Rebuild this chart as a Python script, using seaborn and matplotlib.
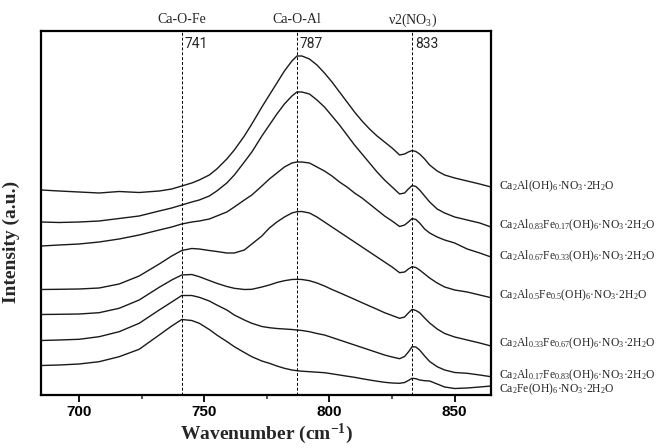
import matplotlib
matplotlib.use("Agg")
import matplotlib.pyplot as plt
import matplotlib.transforms as mtransforms
import numpy as np
import pandas as pd
import seaborn as sns

# ---------------- data ----------------
wavenumber = [685, 692, 700, 708, 716, 724, 732, 737, 741, 745, 748, 752, 755, 759, 762,
              766, 769, 773, 776, 779, 782, 785, 787, 789, 792, 795, 798, 801, 804, 807,
              810, 813, 816, 819, 822, 825, 828, 830, 831.5, 833, 834.5, 836, 838, 840, 843,
              846, 850, 855, 860, 864.5]

s_al100 = [205, 204, 203, 202, 203.5, 202.5, 204, 206, 209, 212, 215, 220, 226, 236, 245,
           259, 271, 288, 300, 312, 324, 334, 339, 339, 336, 330, 322, 313, 303, 293,
           283, 274, 266, 259, 253, 247, 240, 241, 243, 244.5, 243.5, 241, 236, 230, 224,
           220, 217, 214, 211, 208]
s_al83 = [173, 172.5, 173, 174, 176.5, 179, 184, 187, 190, 193, 195, 199, 204, 212, 220,
          233, 243, 259, 270, 281, 291, 299, 303, 303, 301, 295, 288, 279, 270, 260,
          250, 241, 232, 223, 215, 208, 201, 202, 206, 209.5, 208.5, 205, 199, 193, 186,
          182, 178, 175, 172, 168]
s_al67 = [149, 150, 151, 153, 156, 160, 165, 168, 171, 173, 174, 176, 179, 183, 188,
          195, 200, 209, 216, 222, 228, 232, 233, 233, 232, 228, 224, 219, 213, 208,
          202, 197, 191, 185, 179, 174, 168.5, 170, 173, 176.5, 175.5, 172, 166, 162, 158,
          155, 152, 146, 142, 138]
s_al50 = [105.5, 105.7, 106, 107, 111, 119, 131, 139, 144.5, 146.5, 146, 144.5, 143.5, 142, 142,
          145, 151, 159, 167, 173, 178, 182, 183.3, 183.5, 182, 178, 173, 168, 163, 158,
          153, 148, 143, 138, 133, 128, 122.3, 123, 126, 128.3, 127.5, 125, 121, 117, 112,
          108, 105, 103, 100, 97.3]
s_al33 = [80.5, 80.7, 81, 82.3, 86.7, 95, 107.7, 115, 120, 120.5, 118.3, 114.5, 111.7, 108.5, 106.7,
          105.5, 105.7, 108, 110, 112.5, 114.3, 115.5, 115.7, 115.5, 114.3, 112, 109, 105.5, 102.3, 99,
          95.7, 92.3, 89, 85.7, 82.3, 79.5, 76.7, 78, 82, 85.7, 84.5, 82.3, 77, 72, 66,
          61.5, 58, 55, 52, 49]
s_al17 = [54.5, 55, 55.7, 58.3, 63.3, 71.7, 85, 93, 99.5, 99.5, 97.7, 94, 90, 85, 80,
          75, 71.7, 68.5, 67.3, 66.5, 66, 65.5, 65, 64.5, 63.3, 61.5, 60, 57.5, 55, 52.5,
          50, 47.5, 45, 42.5, 40, 38, 36.3, 38.5, 43, 48.3, 48, 45, 39, 33.5, 28.3,
          25, 22.5, 21.7, 20, 18.3]
s_fe100 = [29.5, 30, 31, 33.3, 38.3, 45.7, 60, 69, 75.5, 74.5, 71.7, 65.5, 60, 53.5, 48.3,
           42.5, 38.3, 34, 31.7, 29, 26.7, 25, 24.3, 23.8, 23.3, 22.8, 22.3, 21.2, 20, 18.8,
           17.7, 16.3, 15, 13.8, 12.7, 12, 11.7, 12.5, 14.5, 16.7, 16.3, 15, 14.3, 14, 11,
           8, 6.5, 7, 8, 9]

sample_labels = [
    r"Ca$_2$Al(OH)$_6$·NO$_3$·2H$_2$O",
    r"Ca$_2$Al$_{0.83}$Fe$_{0.17}$(OH)$_6$·NO$_3$·2H$_2$O",
    r"Ca$_2$Al$_{0.67}$Fe$_{0.33}$(OH)$_6$·NO$_3$·2H$_2$O",
    r"Ca$_2$Al$_{0.5}$Fe$_{0.5}$(OH)$_6$·NO$_3$·2H$_2$O",
    r"Ca$_2$Al$_{0.33}$Fe$_{0.67}$(OH)$_6$·NO$_3$·2H$_2$O",
    r"Ca$_2$Al$_{0.17}$Fe$_{0.83}$(OH)$_6$·NO$_3$·2H$_2$O",
    r"Ca$_2$Fe(OH)$_6$·NO$_3$·2H$_2$O",
]
label_y = [209, 170, 139, 100, 52, 20, 6]

peak_positions = [741, 787, 833]
peak_assign = ["Ca-O-Fe", "Ca-O-Al", r"ν2(NO$_3$)"]
xticks = [700, 750, 800, 850]

# ---------------- plot ----------------
sns.set_style("ticks")
plt.rcParams["mathtext.default"] = "regular"

series = [s_al100, s_al83, s_al67, s_al50, s_al33, s_al17, s_fe100]
df = pd.concat([
    pd.DataFrame({"w": wavenumber, "I": s, "sample": str(i)})
    for i, s in enumerate(series)
], ignore_index=True)

fig = plt.figure(figsize=(6.61, 4.48), dpi=100)
ax = fig.add_axes([41 / 661, 1 - 395 / 448, 450 / 661, 364 / 448])

sns.lineplot(data=df, x="w", y="I", hue="sample", palette=["#1a1a1a"] * 7,
             legend=False, linewidth=1.0, estimator=None, ax=ax)

for p in peak_positions:
    ax.axvline(p, color="black", lw=0.7, ls=(0, (3, 2)))

for p, name in zip(peak_positions, peak_assign):
    ax.annotate(str(p), xy=(p, 1), xycoords=("data", "axes fraction"),
                xytext=(2.2, -9), textcoords="offset points",
                ha="left", va="center", fontsize=10, family="Roboto")
    ax.annotate(name, xy=(p, 1), xycoords=("data", "axes fraction"),
                xytext=(0, 8), textcoords="offset points",
                ha="center", va="center", fontsize=10, family="Liberation Serif",
                annotation_clip=False)

trans = mtransforms.blended_transform_factory(ax.transAxes, ax.transData)
for lab, y in zip(sample_labels, label_y):
    ax.text(1.018, y, lab, transform=trans, ha="left", va="center",
            fontsize=8.4, family="Liberation Serif", clip_on=False)

ax.set_xlim(684.8, 864.5)
ax.set_ylim(0, 364)
ax.set_yticks([])
ax.set_xticks(xticks)
ax.set_xticks([725, 775, 825], minor=True)
ax.tick_params(axis="x", which="major", direction="out", length=5, width=1.3, pad=2,
               labelsize=11, colors="black")
ax.tick_params(axis="x", which="minor", direction="out", length=3, width=1.1)
for lbl in ax.get_xticklabels():
    lbl.set_fontfamily("Liberation Sans")
    lbl.set_fontweight("bold")

for s in ax.spines.values():
    s.set_visible(True)
    s.set_linewidth(1.6)
    s.set_color("black")

ax.set_xlabel(r"Wavenumber (cm$^{-1}$)", fontsize=14, fontweight="bold",
              family="Liberation Serif", labelpad=2)
ax.set_ylabel("Intensity (a.u.)", fontsize=14, fontweight="bold",
              family="Liberation Serif")
ax.yaxis.set_label_coords(-0.047, 0.42)

fig.savefig("out.png", dpi=100)
